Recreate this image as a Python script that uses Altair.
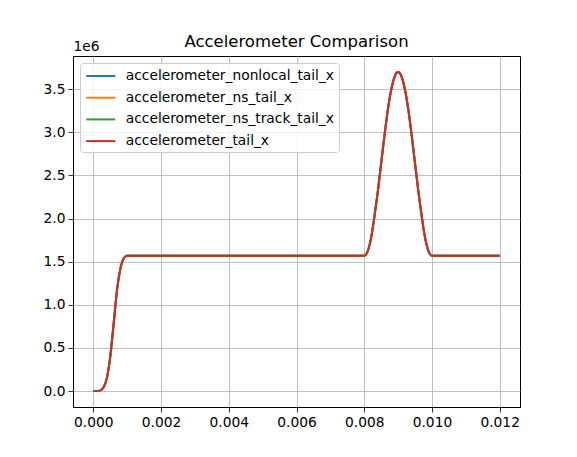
import altair as alt
import pandas as pd

series_names = [
    "accelerometer_nonlocal_tail_x",
    "accelerometer_ns_tail_x",
    "accelerometer_ns_track_tail_x",
    "accelerometer_tail_x",
]
series_colors = ["#1f77b4", "#ff7f0e", "#2ca02c", "#d62728"]

time_s = [
    0.0, 0.0001, 0.0002, 0.0003, 0.0004, 0.0005, 0.0006, 0.0007, 0.0008, 0.0009, 0.0010,
    0.0080, 0.0081, 0.0082, 0.0083, 0.0084, 0.0085, 0.0086, 0.0087, 0.0088, 0.0089, 0.0090,
    0.0091, 0.0092, 0.0093, 0.0094, 0.0095, 0.0096, 0.0097, 0.0098, 0.0099, 0.0100, 0.0120,
]
accel_e6 = [
    0.0, 0.0, 0.005, 0.04, 0.15, 0.40, 0.78, 1.17, 1.42, 1.54, 1.57,
    1.57, 1.62, 1.77, 2.02, 2.31, 2.64, 2.97, 3.27, 3.50, 3.65, 3.70,
    3.65, 3.50, 3.27, 2.97, 2.64, 2.31, 2.02, 1.77, 1.62, 1.57, 1.57,
]

rows = []
for order, name in enumerate(series_names):
    for t, a in zip(time_s, accel_e6):
        rows.append({"series": name, "t": t, "a": a, "order": order})
df = pd.DataFrame(rows)

FONT = "DejaVu Sans"
FS = 13.8

chart = (
    alt.Chart(df)
    .mark_line(strokeWidth=2, interpolate="monotone")
    .encode(
        x=alt.X(
            "t:Q",
            scale=alt.Scale(domain=[-0.0006, 0.0126], nice=False, zero=False),
            axis=alt.Axis(
                values=[0.0, 0.002, 0.004, 0.006, 0.008, 0.010, 0.012],
                format=".3f",
                title=None,
            ),
        ),
        y=alt.Y(
            "a:Q",
            scale=alt.Scale(domain=[-0.185, 3.885], nice=False, zero=False),
            axis=alt.Axis(
                values=[0.0, 0.5, 1.0, 1.5, 2.0, 2.5, 3.0, 3.5],
                format=".1f",
                title="1e6",
                titleAngle=0,
                titleAlign="left",
                titleBaseline="bottom",
                titleX=0,
                titleY=-3,
                titleFontWeight="normal",
                titleFontSize=FS,
                titleFont=FONT,
                titleColor="black",
            ),
        ),
        color=alt.Color(
            "series:N",
            scale=alt.Scale(domain=series_names, range=series_colors),
            legend=alt.Legend(
                title=None,
                orient="none",
                legendX=7,
                legendY=7,
                symbolType="M-1.883,0L1.883,0",
                symbolSize=237,
                symbolStrokeWidth=2,
                symbolOffset=7.8,
                labelFontSize=FS,
                labelFont=FONT,
                labelColor="black",
                labelOffset=16,
                rowPadding=5.7,
                padding=4,
                fillColor="rgba(255,255,255,0.8)",
                strokeColor="#cccccc",
                cornerRadius=3,
                labelLimit=400,
            ),
        ),
        order=alt.Order("order:Q"),
        detail="series:N",
    )
    .properties(
        width=447,
        height=351,
        title=alt.TitleParams(
            "Accelerometer Comparison",
            font=FONT,
            fontSize=16.5,
            fontWeight="normal",
            color="black",
            anchor="middle",
            offset=-11,
        ),
        autosize=alt.AutoSizeParams(type="none"),
        padding={"left": 65, "top": 48, "right": 49, "bottom": 41},
    )
    .configure_view(stroke="black", strokeWidth=1)
    .configure_axis(
        domainColor="black",
        domainWidth=1,
        tickColor="black",
        tickSize=5,
        tickWidth=0.8,
        labelFont=FONT,
        labelFontSize=FS,
        labelColor="black",
        labelPadding=3,
        grid=True,
        gridColor="#b0b0b0",
        gridWidth=0.8,
    )
)

chart.save("out.html", embed_options={"renderer": "svg", "actions": False})
